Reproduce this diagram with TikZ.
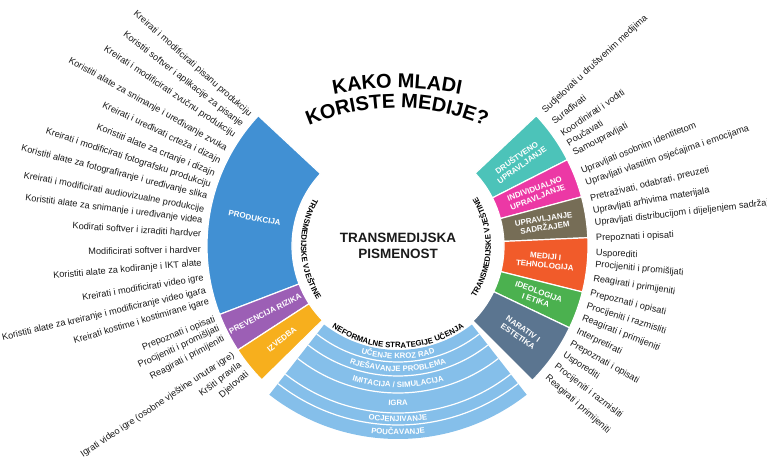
\documentclass[tikz,border=0pt]{standalone}
\usepackage{fontspec}
\setmainfont{Liberation Sans}
\usetikzlibrary{decorations.text}
\definecolor{cProd}{HTML}{4190D3}
\definecolor{cPrev}{HTML}{9C5FB5}
\definecolor{cIzv}{HTML}{F7AF1D}
\definecolor{cTeal}{HTML}{4CC3B9}
\definecolor{cPink}{HTML}{EC38A5}
\definecolor{cBrown}{HTML}{766D56}
\definecolor{cOrange}{HTML}{F15B2A}
\definecolor{cGreen}{HTML}{4BB14F}
\definecolor{cSlate}{HTML}{5B7590}
\definecolor{cLight}{HTML}{85BFEA}
\definecolor{cText}{HTML}{1A1A1A}
\newcommand\mysector[5]{%
  \fill[#5, draw=white, line width=1.2pt] (#1:#3) arc[start angle=#1, end angle=#2, radius=#3] -- (#2:#4) arc[start angle=#2, end angle=#1, radius=#4] -- cycle;}
\newcommand\ttlfont{\fontsize{20}{20}\selectfont\bfseries}
\newcommand\arcfont{\fontsize{7.8}{7.8}\selectfont\bfseries}
\newcommand\bandfont{\fontsize{7.8}{7.8}\selectfont\bfseries}
\tikzset{
  seclab/.style={text=white, font=\fontsize{8}{9}\selectfont\bfseries, align=center, inner sep=0pt},
  outlab/.style={text=cText, font=\fontsize{9.2}{10}\selectfont, inner sep=0pt},
  bandline/.style={white, line width=1.2pt},
}
\begin{document}
\begin{tikzpicture}[x=1pt,y=1pt]
\useasboundingbox (0,0) rectangle (767,460);
\clip (0,0) rectangle (767,460);

% ---------- title ----------
\begin{scope}[shift={(397,49)}]
  \path[decorate, decoration={text along path, text align=center, text={|\ttlfont|KAKO MLADI}}]
    (110:323pt) arc[start angle=110, end angle=70, radius=323pt];
\end{scope}
\begin{scope}[shift={(397,126)}]
  \path[decorate, decoration={text along path, text align=center, text={|\ttlfont|KORISTE MEDIJE?}}]
    (125:226pt) arc[start angle=125, end angle=55, radius=226pt];
\end{scope}

% ---------- centre ----------
\node[font=\fontsize{13.5}{16}\selectfont\bfseries, align=center, text=cText] (centre) at (398,214) {TRANSMEDIJSKA\\PISMENOST};

% ---------- left and right groups ----------
\begin{scope}[shift={(398,214)}]
  \mysector{137}{201}{106pt}{191pt}{cProd}
  \mysector{201}{213}{106pt}{191pt}{cPrev}
  \mysector{213}{224.5}{106pt}{191pt}{cIzv}
  \mysector{27}{43.3}{106pt}{190pt}{cTeal}
  \mysector{15}{27}{106pt}{190pt}{cPink}
  \mysector{2.5}{15}{106pt}{190pt}{cBrown}
  \mysector{-14}{2.5}{106pt}{190pt}{cOrange}
  \mysector{-25.5}{-14}{106pt}{190pt}{cGreen}
  \mysector{-45}{-25.5}{106pt}{190pt}{cSlate}

  \node[seclab, rotate=-11] (sProd) at (169:146pt) {PRODUKCIJA};
  \node[seclab, rotate=27] (sPrev) at (207:149pt) {PREVENCIJA RIZIKA};
  \node[seclab, rotate=38.75] (sIzv) at (218.75:149pt) {IZVEDBA};
  \node[seclab, rotate=35.2] (sDru) at (35.2:148pt) {DRUŠTVENO\\UPRAVLJANJE};
  \node[seclab, rotate=21] (sInd) at (21:148pt) {INDIVIDUALNO\\UPRAVLJANJE};
  \node[seclab, rotate=8.75] (sSad) at (8.75:148pt) {UPRAVLJANJE\\SADRŽAJEM};
  \node[seclab, rotate=-5.75] (sMed) at (-5.75:148pt) {MEDIJI I\\TEHNOLOGIJA};
  \node[seclab, rotate=-19.75] (sIde) at (-19.75:148pt) {IDEOLOGIJA\\I ETIKA};
  \node[seclab, rotate=-35.25] (sNar) at (-35.25:150pt) {NARATIV I\\ESTETIKA};

  \foreach \a/\t [count=\i] in {
    138.5/{Kreirati i modificirati pisanu produkciju},
    142.2/{Koristiti softver i aplikacije za pisanje},
    146/{Kreirati i modificirati zvučnu produkciju},
    150.5/{Koristiti alate za snimanje i uređivanje zvuka},
    154.5/{Kreirati i uređivati crteža i dizajn},
    158.5/{Koristiti alate za crtanje i dizajn},
    162/{Kreirati i modificirati fotografsku produkciju},
    165.5/{Koristiti alate za fotografiranje i uređivanje slika},
    169.4/{Kreirati i modificirati audiovizualne produkcije},
    172.7/{Koristiti alate za snimanje i uređivanje videa},
    176.4/{Kodirati softver i izraditi hardver},
    181/{Modificirati softver i hardver},
    185/{Koristiti alate za kodiranje i IKT alate},
    189.4/{Kreirati i modificirati video igre},
    193.1/{Koristiti alate za kreiranje i modificiranje video igara},
    196.4/{Kreirati kostime i kostimirane igare},
    201.8/{Prepoznati i opisati},
    204.8/{Procijeniti i promišljati},
    208/{Reagirati i primijeniti},
    213.5/{Igrati video igre (osobne vještine unutar igre)},
    217/{Kršiti pravila},
    220.3/{Djelovati}}
    \node[outlab, rotate=\a-180, anchor=east] (l\i) at (\a:197pt) {\t};

  \foreach \a/\t [count=\i] in {
    42.7/{Sudjelovati u društvenim medijima},
    38.6/{Surađivati},
    34.4/{Koordinirati i voditi},
    31.2/{Poučavati},
    27.7/{Samoupravljati},
    22.1/{Upravljati osobnim identitetom},
    18.5/{Upravljati vlastitim osjećajima i emocijama},
    13.8/{Pretraživati, odabrati, preuzeti},
    10.1/{Upravljati arhivima materijala},
    6.6/{Upravljati distribucijom i dijeljenjem sadržaja},
    2.2/{Prepoznati i opisati},
    -2.2/{Usporediti},
    -5.4/{Procijeniti i promišljati},
    -9.5/{Reagirati i primijeniti},
    -13.9/{Prepoznati i opisati},
    -17.7/{Procijeniti i razmisliti},
    -21.4/{Reagirati i primijeniti},
    -25.4/{Interpretirati},
    -29.4/{Prepoznati i opisati},
    -33.2/{Usporediti},
    -37.3/{Procijeniti i razmisliti},
    -41.4/{Reagirati i primijeniti}}
    \node[outlab, rotate=\a, anchor=west] (r\i) at (\a:198pt) {\t};

  \path[decorate, decoration={text along path, text align=center, text={|\arcfont|TRANSMEDIJSKE VJEŠTINE}}]
    (135:97pt) arc[start angle=135, end angle=229, radius=97pt];
  \path[decorate, decoration={text along path, text align=center, text={|\arcfont|TRANSMEDIJSKE VJEŠTINE}}]
    (-48:93pt) arc[start angle=-48, end angle=46, radius=93pt];
\end{scope}

% ---------- bottom: informal learning strategies ----------
\begin{scope}[shift={(398,230)}]
  \fill[cLight] (-128:120pt) arc[start angle=-128, end angle=-52, radius=120pt]
    -- (-52:209pt) arc[start angle=-52, end angle=-128, radius=209pt] -- cycle;
  \foreach \r in {132,146,163,183,195}
    \draw[bandline] (-128:\r pt) arc[start angle=-128, end angle=-52, radius=\r pt];
  \path[decorate, decoration={text along path, text align=center, text={|\bandfont|NEFORMALNE STRATEGIJE UČENJA}}]
    (-135:118pt) arc[start angle=-135, end angle=-45, radius=118pt];
  \foreach \r/\t in {128.8/{UČENJE KROZ RAD}, 141.8/{RJEŠAVANJE PROBLEMA}, 157.3/{IMITACIJA / SIMULACIJA},
                     175.8/{IGRA}, 191.8/{OCJENJIVANJE}, 204.8/{POUČAVANJE}}
    \path[decorate, decoration={text along path, text align=center, text={|\bandfont\color{white}|\t}}]
      (-135:\r pt) arc[start angle=-135, end angle=-45, radius=\r pt];
\end{scope}
\end{tikzpicture}
\end{document}
